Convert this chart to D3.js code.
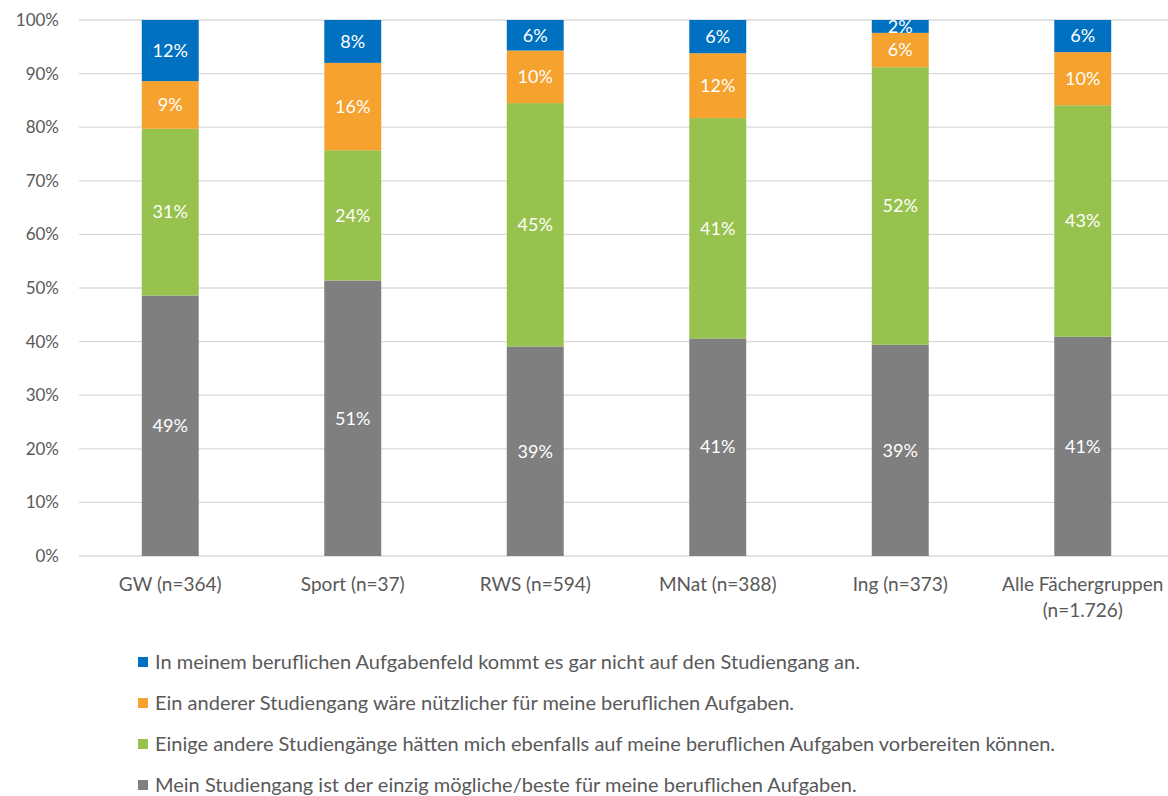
<!DOCTYPE html>
<html><head><meta charset="utf-8">
<script src="https://cdn.jsdelivr.net/npm/d3@7"></script>
<style>body{margin:0;background:#fff}svg{display:block}text{font-family:Lato,"Open Sans",sans-serif}</style>
</head><body><svg id="c" width="1168" height="796"></svg>
<script>
const categories = ["GW (n=364)", "Sport (n=37)", "RWS (n=594)", "MNat (n=388)", "Ing (n=373)", "Alle Fächergruppen\n(n=1.726)"];
const seriesNames = [
  "Mein Studiengang ist der einzig mögliche/beste für meine beruflichen Aufgaben.",
  "Einige andere Studiengänge hätten mich ebenfalls auf meine beruflichen Aufgaben vorbereiten können.",
  "Ein anderer Studiengang wäre nützlicher für meine beruflichen Aufgaben.",
  "In meinem beruflichen Aufgabenfeld kommt es gar nicht auf den Studiengang an."
];
const seriesColors = ["#7f7f7f", "#97c24e", "#f5a22e", "#0070c0"];
const graySeries   = [48.6, 51.4, 39.1, 40.6, 39.4, 40.9];
const greenSeries  = [31.1, 24.3, 45.4, 41.1, 51.8, 43.2];
const orangeSeries = [8.9, 16.3, 9.8, 12.1, 6.4, 9.9];
const blueSeries   = [11.4, 8.0, 5.7, 6.2, 2.4, 6.0];
const seriesLabels = [
  ["49%","51%","39%","41%","39%","41%"],
  ["31%","24%","45%","41%","52%","43%"],
  ["9%","16%","10%","12%","6%","10%"],
  ["12%","8%","6%","6%","2%","6%"]
];
const yTicks = [0,10,20,30,40,50,60,70,80,90,100];

const svg = d3.select("#c");
const x = d3.scaleBand().domain(categories).range([79, 1174]).paddingInner(0.688).paddingOuter(0.344);
const y = d3.scaleLinear().domain([0, 100]).range([556, 20]);

// gridlines
svg.append("g").selectAll("line").data(yTicks).join("line")
  .attr("x1", 79).attr("x2", 1168)
  .attr("y1", d => y(d)).attr("y2", d => y(d))
  .attr("stroke", "#d9d9d9").attr("stroke-width", 1.3);

// y axis labels
const yAxis = d3.axisLeft(y).tickValues(yTicks).tickFormat(d => d + "%").tickSize(0).tickPadding(0);
const ya = svg.append("g").attr("transform", "translate(59,0)").call(yAxis);
ya.select(".domain").remove();
ya.selectAll("text").attr("fill", "#595959").style("font-size", "17px").style("font-family", "Lato");

const rows = categories.map((c, i) => ({cat: c, v: [graySeries[i], greenSeries[i], orangeSeries[i], blueSeries[i]]}));
const stack = d3.stack().keys([0,1,2,3]).value((d, k) => d.v[k]);
const stacked = stack(rows);

const g = svg.append("g");
stacked.forEach((layer, si) => {
  const lg = g.append("g");
  lg.selectAll("rect").data(layer).join("rect")
    .attr("x", d => x(d.data.cat))
    .attr("width", x.bandwidth())
    .attr("y", d => y(d[1]))
    .attr("height", d => y(d[0]) - y(d[1]))
    .attr("fill", seriesColors[si]);
  lg.selectAll("text").data(layer).join("text")
    .attr("x", d => x(d.data.cat) + x.bandwidth() / 2)
    .attr("y", d => (y(d[0]) + y(d[1])) / 2)
    .attr("dy", "0.35em")
    .attr("text-anchor", "middle")
    .attr("fill", "#ffffff")
    .style("font-size", "18px")
    .text((d, i) => seriesLabels[si][i]);
});

// x axis labels
const xl = svg.append("g");
categories.forEach(c => {
  const lines = c.split("\n");
  const t = xl.append("text").attr("x", x(c) + x.bandwidth()/2).attr("y", 591)
    .attr("text-anchor", "middle").attr("fill", "#595959").style("font-size", "19px");
  lines.forEach((ln, j) => t.append("tspan").attr("x", x(c) + x.bandwidth()/2).attr("dy", j ? 26 : 0).text(ln));
});

// legend (reverse order)
const legendOrder = [3,2,1,0];
const lg = svg.append("g");
legendOrder.forEach((si, j) => {
  const cy = 662 + j * 41;
  lg.append("rect").attr("x", 138).attr("y", cy - 5).attr("width", 10).attr("height", 10).attr("fill", seriesColors[si]);
  lg.append("text").attr("x", 155).attr("y", cy).attr("dy", "0.35em").attr("fill", "#595959")
    .style("font-size", "20px").text(seriesNames[si]);
});
</script></body></html>
